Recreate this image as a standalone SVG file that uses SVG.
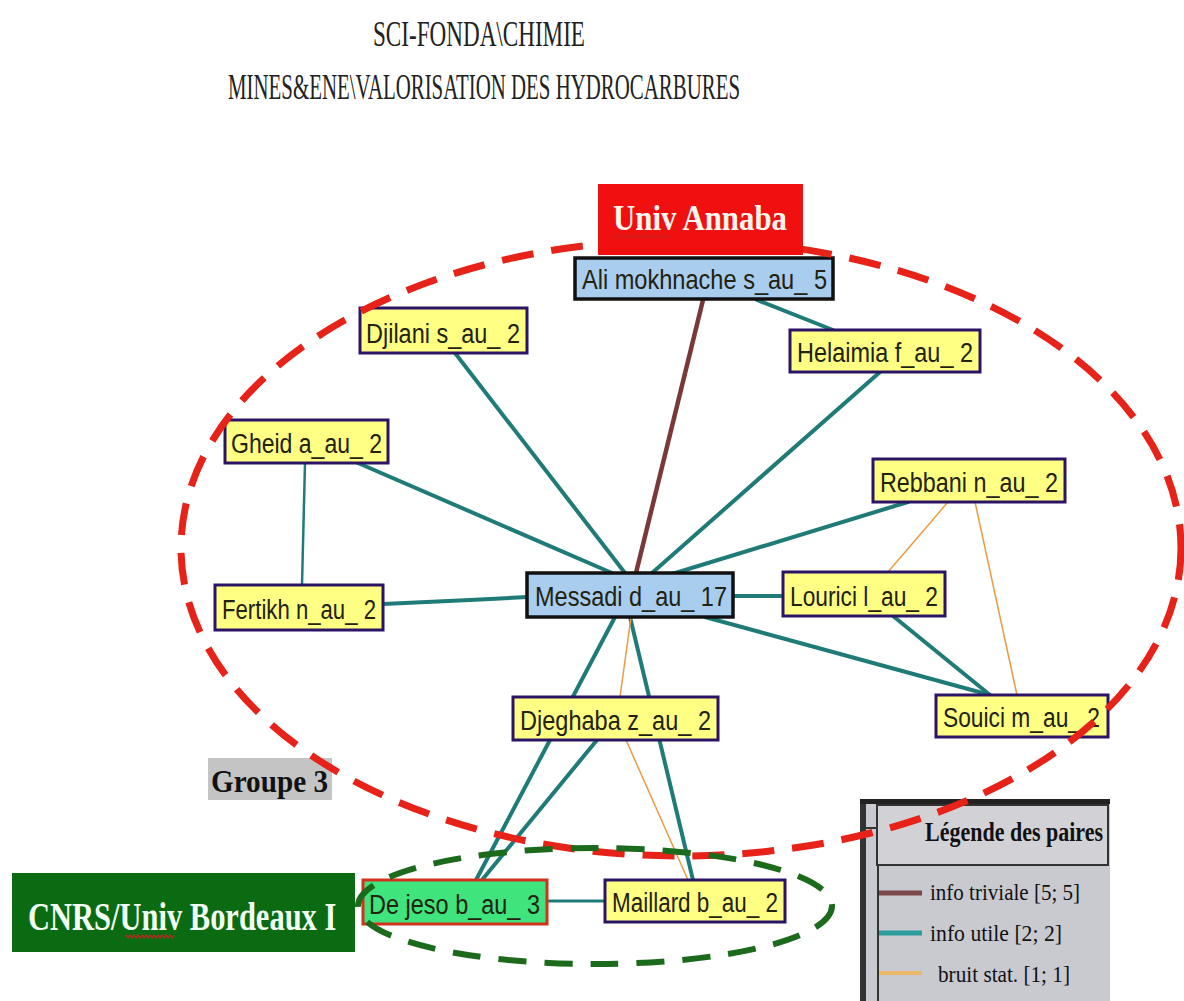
<svg xmlns="http://www.w3.org/2000/svg" width="1184" height="1001" viewBox="0 0 1184 1001">
<style>
.title{font-family:"Liberation Serif","Times New Roman",serif;font-size:35px;fill:#222}
.nt{font-family:"Liberation Sans",Arial,sans-serif;font-size:27px;fill:#222210}
.ny{fill:#ffff84;stroke:#2b1466;stroke-width:3}
.nb{fill:#a9cdee;stroke:#111;stroke-width:3.5}
.ng{fill:#3fe47c;stroke:#d0321e;stroke-width:3}
.e{stroke:#1f7b78;stroke-width:4;fill:none;stroke-linecap:round}
.et{stroke:#1f7b78;stroke-width:2.5;fill:none}
.eo{stroke:#ee9a40;stroke-width:1.5;fill:none}
.eb{stroke:#7a3838;stroke-width:4.5;fill:none}
.lab{font-family:"Liberation Serif","Times New Roman",serif;font-weight:bold}
.leg{font-family:"Liberation Serif","Times New Roman",serif;font-size:23px;fill:#111}
.wavy{fill:none;stroke:#d02020;stroke-width:1.2}
</style>
<rect width="1184" height="1001" fill="#ffffff"/>
<g id="titles">
<text class="title" x="373" y="46" textLength="212" lengthAdjust="spacingAndGlyphs">SCI-FONDA\CHIMIE</text>
<text class="title" x="228" y="99" textLength="512" lengthAdjust="spacingAndGlyphs">MINES&amp;ENE\VALORISATION DES HYDROCARBURES</text>
</g>
<g id="connectors">
<line class="eb" x1="703" y1="300" x2="636" y2="573"/>
<line class="e" x1="757" y1="300" x2="833" y2="330"/>
<line class="e" x1="455" y1="353" x2="625" y2="573"/>
<line class="e" x1="880" y1="372" x2="652" y2="573"/>
<line class="e" x1="358" y1="463" x2="612" y2="573"/>
<line class="e" x1="908" y1="502" x2="672" y2="574"/>
<line class="et" x1="305" y1="463" x2="302" y2="585"/>
<polyline class="e" points="383,604 470,600 527,597"/>
<line class="e" x1="733" y1="596" x2="783" y2="596"/>
<line class="e" x1="705" y1="617" x2="990" y2="695"/>
<line class="e" x1="893" y1="616" x2="990" y2="695"/>
<line class="eo" x1="948" y1="502" x2="888" y2="572"/>
<line class="eo" x1="975" y1="502" x2="1017" y2="695"/>
<line class="e" x1="615" y1="617" x2="476" y2="880"/>
<line class="e" x1="597" y1="740" x2="482" y2="880"/>
<line class="e" x1="630" y1="617" x2="693" y2="880"/>
<line class="eo" x1="631" y1="617" x2="620" y2="697"/>
<line class="eo" x1="626" y1="740" x2="688" y2="880"/>
<line class="e" x1="547" y1="901" x2="605" y2="901" style="stroke-width:3"/>
</g>
<g id="n-ali"><rect class="nb" x="575" y="258" width="258" height="41"/><text class="nt" x="582" y="289" textLength="245" lengthAdjust="spacingAndGlyphs">Ali mokhnache s_au_ 5</text></g>
<g id="n-djilani"><rect class="ny" x="360" y="308" width="167" height="45"/><text class="nt" x="366" y="343" textLength="154" lengthAdjust="spacingAndGlyphs">Djilani s_au_ 2</text></g>
<g id="n-helaimia"><rect class="ny" x="790" y="330" width="190" height="42"/><text class="nt" x="797" y="362" textLength="176" lengthAdjust="spacingAndGlyphs">Helaimia f_au_ 2</text></g>
<g id="n-gheid"><rect class="ny" x="225" y="420" width="163" height="43"/><text class="nt" x="231" y="453" textLength="151" lengthAdjust="spacingAndGlyphs">Gheid a_au_ 2</text></g>
<g id="n-rebbani"><rect class="ny" x="873" y="459" width="192" height="43"/><text class="nt" x="880" y="492" textLength="178" lengthAdjust="spacingAndGlyphs">Rebbani n_au_ 2</text></g>
<g id="n-fertikh"><rect class="ny" x="215" y="585" width="168" height="45"/><text class="nt" x="222" y="619" textLength="154" lengthAdjust="spacingAndGlyphs">Fertikh n_au_ 2</text></g>
<g id="n-messadi"><rect class="nb" x="527" y="573" width="206" height="44"/><text class="nt" x="535" y="606" textLength="192" lengthAdjust="spacingAndGlyphs">Messadi d_au_ 17</text></g>
<g id="n-lourici"><rect class="ny" x="783" y="572" width="162" height="44"/><text class="nt" x="790" y="606" textLength="148" lengthAdjust="spacingAndGlyphs">Lourici l_au_ 2</text></g>
<g id="n-djeghaba"><rect class="ny" x="513" y="697" width="205" height="43"/><text class="nt" x="520" y="730" textLength="191" lengthAdjust="spacingAndGlyphs">Djeghaba z_au_ 2</text></g>
<g id="n-souici"><rect class="ny" x="936" y="695" width="172" height="42"/><text class="nt" x="943" y="727" textLength="157" lengthAdjust="spacingAndGlyphs">Souici m_au_ 2</text></g>
<g id="n-dejeso"><rect class="ng" x="363" y="880" width="184" height="44"/><text class="nt" x="369" y="914" textLength="171" lengthAdjust="spacingAndGlyphs">De jeso b_au_ 3</text></g>
<g id="n-maillard"><rect class="ny" x="605" y="880" width="180" height="42"/><text class="nt" x="612" y="912" textLength="166" lengthAdjust="spacingAndGlyphs">Maillard b_au_ 2</text></g>
<g id="groupe3"><rect x="208" y="758" width="124" height="42" fill="#c4c4c4"/><text class="lab" x="211" y="792" font-size="31" fill="#111" textLength="117" lengthAdjust="spacingAndGlyphs">Groupe 3</text></g>
<g id="legend">
<rect x="860" y="800" width="250" height="205" fill="#c9c9d0"/>
<rect x="860" y="800" width="6" height="205" fill="#333"/>
<rect x="860" y="799" width="250" height="5" fill="#222"/>
<rect x="877" y="805" width="231" height="60" fill="#d2d2d6" stroke="#333" stroke-width="2"/>
<line x1="878" y1="865" x2="878" y2="1005" stroke="#333" stroke-width="2"/>
<line x1="866" y1="828" x2="877" y2="828" stroke="#333" stroke-width="2"/>
<text class="lab" x="925" y="841" font-size="27" fill="#111" textLength="178" lengthAdjust="spacingAndGlyphs">Légende des paires</text>
<line x1="879" y1="893" x2="922" y2="893" stroke="#7a4848" stroke-width="5"/>
<text class="leg" x="930" y="900" textLength="150" lengthAdjust="spacingAndGlyphs">info triviale [5; 5]</text>
<line x1="879" y1="933" x2="922" y2="933" stroke="#2a9c9c" stroke-width="5"/>
<text class="leg" x="930" y="941" textLength="132" lengthAdjust="spacingAndGlyphs">info utile [2; 2]</text>
<line x1="879" y1="973" x2="922" y2="973" stroke="#eab868" stroke-width="4"/>
<text class="leg" x="938" y="982" textLength="132" lengthAdjust="spacingAndGlyphs">bruit stat. [1; 1]</text>
</g>
<g id="groups">
<ellipse cx="681" cy="548" rx="500" ry="308" fill="none" stroke="#e62219" stroke-width="7" stroke-dasharray="32 18"/>
<ellipse cx="595" cy="906" rx="237" ry="58" fill="none" stroke="#1c6b1c" stroke-width="6" stroke-dasharray="28 18"/>
</g>
<g id="univ-annaba">
<rect x="598" y="184" width="205" height="71" fill="#f01010"/>
<text class="lab" x="613" y="230" font-size="36" fill="#fff6ee" textLength="174" lengthAdjust="spacingAndGlyphs">Univ Annaba</text>
<polyline class="wavy" points="614,235 616,238 618,235 620,238 622,235 624,238 626,235 628,238 630,235 632,238 634,235 636,238 638,235 640,238 642,235 644,238 646,235 648,238 650,235 652,238 654,235 656,238 658,235 660,238 662,235 664,238 666,235 668,238 670,235"/>
</g>
<g id="cnrs">
<rect x="12" y="873" width="343" height="79" fill="#0b6b12"/>
<text class="lab" transform="translate(28,930) scale(1,1.3)" x="0" y="0" font-size="30.5" fill="#f2fff2">CNRS/Univ Bordeaux I</text>
<polyline class="wavy" points="126,935 128,938 130,935 132,938 134,935 136,938 138,935 140,938 142,935 144,938 146,935 148,938 150,935 152,938 154,935 156,938 158,935 160,938 162,935 164,938 166,935 168,938 170,935 172,938 174,935"/>
</g>
</svg>
